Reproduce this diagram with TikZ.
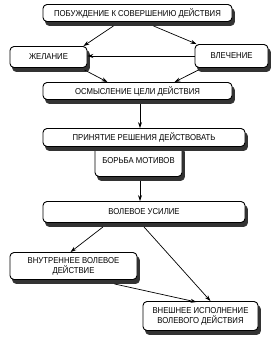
\documentclass[tikz,border=0pt]{standalone}
\usepackage{fontspec}
\setmainfont[FakeStretch=0.9]{Liberation Sans}
\usetikzlibrary{arrows.meta}

\begin{document}
\begin{tikzpicture}[x=1pt,y=-1pt,
  >={Stealth[length=6pt,width=4pt]},
  blk/.style={rectangle,draw,rounded corners=4pt,fill=white,line width=0.9pt,
    font=\fontsize{8.6}{10}\selectfont,align=center,inner sep=0pt,
    preaction={fill=black!80,draw=black!80,transform canvas={xshift=2.5pt,yshift=-4pt}}},
  conn/.style={->,line width=0.7pt}]
\useasboundingbox (0,0) rectangle (276,337);

% Motive to goal
\node[blk,minimum width=189pt,minimum height=17pt] (pob) at (137.5,13) {ПОБУЖДЕНИЕ К СОВЕРШЕНИЮ ДЕЙСТВИЯ};
\node[blk,minimum width=77pt,minimum height=21pt] (zhel) at (48.5,57) {ЖЕЛАНИЕ};
\node[blk,minimum width=73pt,minimum height=23pt] (vlech) at (231.5,56) {ВЛЕЧЕНИЕ};
\node[blk,minimum width=189pt,minimum height=17pt] (osm) at (137.5,91) {ОСМЫСЛЕНИЕ ЦЕЛИ ДЕЙСТВИЯ};

\draw[conn] ([xshift=-24pt,yshift=-4pt]pob.south) -- ([xshift=-4pt]zhel.north east);
\draw[conn] ([xshift=16pt,yshift=-4pt]pob.south) -- ([xshift=2pt]vlech.north west);
\draw[conn] (vlech.west) -- (vlech.west -| zhel.east);
\draw[conn] ([xshift=-3pt,yshift=-2pt]zhel.south east) -- ([xshift=-30pt]osm.north);
\draw[conn] ([xshift=4pt,yshift=-2pt]vlech.south west) -- ([xshift=37pt]osm.north);

% Decision
\node[blk,minimum width=87pt,minimum height=32pt] (borba) at (138.5,160.5) {\raisebox{-3pt}{БОРЬБА МОТИВОВ}};
\node[blk,minimum width=202pt,minimum height=18pt] (prin) at (144,137.5) {ПРИНЯТИЕ РЕШЕНИЯ ДЕЙСТВОВАТЬ};
\node[blk,minimum width=202pt,minimum height=21pt] (vol) at (144,212) {ВОЛЕВОЕ УСИЛИЕ};

\draw[conn] ([xshift=2.5pt,yshift=-4pt]osm.south) -- ([xshift=2.5pt]osm.south |- prin.north);
\draw[conn] ([xshift=1.5pt,yshift=-4pt]borba.south) -- ([xshift=1.5pt]borba.south |- vol.north);

% Execution
\node[blk,minimum width=127pt,minimum height=27pt] (vnutr) at (73.5,266) {ВНУТРЕННЕЕ ВОЛЕВОЕ\\ДЕЙСТВИЕ};
\node[blk,minimum width=115pt,minimum height=29pt] (vnesh) at (200.5,316) {ВНЕШНЕЕ ИСПОЛНЕНИЕ\\ВОЛЕВОГО ДЕЙСТВИЯ};

\draw[conn] ([xshift=-41pt,yshift=-4pt]vol.south) -- ([xshift=-3pt]vnutr.north);
\draw[conn] ([yshift=-4pt]vol.south) -- ([xshift=10pt]vnesh.north);
\draw[conn] ([xshift=41pt,yshift=-4pt]vnutr.south) -- ([xshift=-4pt,yshift=-1pt]vnesh.north);
\end{tikzpicture}
\end{document}
